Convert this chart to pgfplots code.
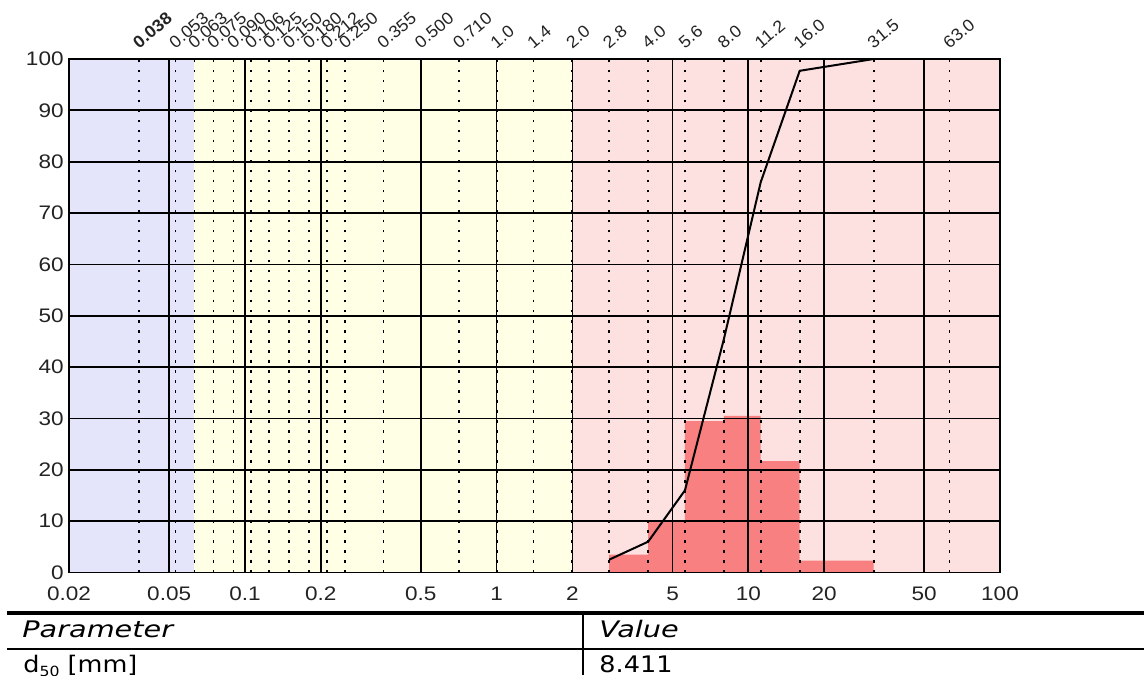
\documentclass[border=0pt]{standalone}
\usepackage{fontspec}
\usepackage{pgfplots}
\pgfplotsset{compat=1.18}
\setmainfont{Liberation Sans}
\newfontfamily\tickfont[FakeStretch=1.15]{Liberation Sans}
\newfontfamily\topfont[FakeStretch=1.05]{Liberation Sans}
\newfontfamily\tabfont[FakeStretch=1.12]{DejaVu Sans}
\newfontfamily\tabit[FakeStretch=1.26]{DejaVu Sans Oblique}
\definecolor{bandblue}{RGB}{228,228,250}
\definecolor{bandyellow}{RGB}{255,255,230}
\definecolor{bandpink}{RGB}{253,225,225}
\definecolor{barred}{RGB}{248,128,128}
\definecolor{txt}{RGB}{35,35,35}

\begin{document}
\begin{tikzpicture}
\useasboundingbox (0,0) rectangle (572pt,337.5pt);
\begin{axis}[
  at={(34.5pt,51.25pt)}, anchor=south west,
  scale only axis, width=465.5pt, height=256.75pt,
  xmode=log, xmin=0.02, xmax=100, ymin=0, ymax=100,
  xtick={0.02,0.05,0.1,0.2,0.5,1,2,5,10,20,50,100},
  xticklabels={0.02,0.05,0.1,0.2,0.5,1,2,5,10,20,50,100},
  ytick={0,10,20,30,40,50,60,70,80,90,100},
  yticklabels={0,10,20,30,40,50,60,70,80,90,100},
  major tick length=0pt, minor tick length=0pt,
  xmajorgrids, ymajorgrids,
  major grid style={black, line width=0.85pt},
  axis line style={black, line width=0.9pt},
  axis on top,
  ticklabel style={font=\tickfont\fontsize{9.8}{11}\selectfont, text=txt},
  xticklabel style={inner sep=0pt, yshift=-7pt},
  yticklabel style={inner sep=0pt, xshift=-2.5pt},
]
\addplot[fill=bandblue, draw=none] coordinates {(0.02,0)(0.02,100)(0.063,100)(0.063,0)} -- cycle;
\addplot[fill=bandyellow, draw=none] coordinates {(0.063,0)(0.063,100)(2,100)(2,0)} -- cycle;
\addplot[fill=bandpink, draw=none] coordinates {(2,0)(2,100)(100,100)(100,0)} -- cycle;
\addplot[ybar interval, fill=barred, draw=none] coordinates {(2.8,3.5)(4.0,10)(5.6,29.5)(8.0,30.5)(11.2,21.7)(16.0,2.3)(31.5,0)};
\addplot[black, line width=1pt, mark=none] coordinates {(2.8,2.5)(4.0,6.0)(5.6,16.0)(8.0,45.5)(11.2,76.0)(16.0,97.7)(31.5,100)};
\end{axis}
\begin{axis}[
  at={(34.5pt,51.25pt)}, anchor=south west,
  scale only axis, width=465.5pt, height=256.75pt,
  xmode=log, xmin=0.02, xmax=100, ymin=0, ymax=100,
  axis line style={draw=none}, ytick=\empty,
  xtick={0.038,0.053,0.063,0.075,0.090,0.106,0.125,0.150,0.180,0.212,0.250,0.355,0.500,0.710,1.0,1.4,2.0,2.8,4.0,5.6,8.0,11.2,16.0,31.5,63.0},
  xticklabels={{\bfseries 0.038},0.053,0.063,0.075,0.090,0.106,0.125,0.150,0.180,0.212,0.250,0.355,0.500,0.710,1.0,1.4,2.0,2.8,4.0,5.6,8.0,11.2,16.0,31.5,63.0},
  xticklabel pos=upper,
  major tick length=0pt, minor tick length=0pt,
  xmajorgrids,
  major grid style={black, line width=0.9pt, dash pattern=on 1.3pt off 3.7pt},
  xticklabel style={font=\topfont\fontsize{8.5}{9}\selectfont, text=txt, inner sep=0pt, anchor=south west, yshift=4.5pt, rotate=40},
]
\end{axis}
\draw[line width=1.6pt] (3.5pt,31pt) -- (572pt,31pt);
\draw[line width=1.1pt] (3.5pt,13pt) -- (572pt,13pt);
\draw[line width=1pt] (291.35pt,0pt) -- (291.35pt,31pt);
\node[anchor=base west, inner sep=0pt] at (11pt,18.65pt) {\tabit\fontsize{11.4}{13}\selectfont Parameter};
\node[anchor=base west, inner sep=0pt] at (299.5pt,18.65pt) {\tabit\fontsize{11.4}{13}\selectfont Value};
\node[anchor=base west, inner sep=0pt] at (11.5pt,1.15pt) {\tabfont\fontsize{11.4}{13}\selectfont d\raisebox{-0.3ex}{\fontsize{7}{8}\selectfont 50} [mm]};
\node[anchor=base west, inner sep=0pt] at (299.5pt,1.15pt) {\tabfont\fontsize{11.4}{13}\selectfont 8.411};
\end{tikzpicture}
\end{document}
